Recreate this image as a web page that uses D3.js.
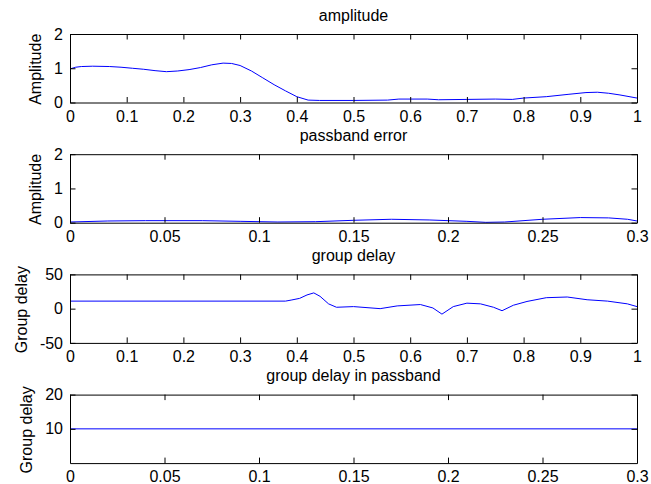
<!DOCTYPE html>
<html>
<head>
<meta charset="utf-8">
<script src="https://cdn.jsdelivr.net/npm/d3@7"></script>
<style>
    body { margin:0; background:#ffffff; }
    svg text { font-family: "Liberation Sans", Arial, sans-serif; }
</style>
</head>
<body>
<svg id="chart"></svg>
<script>
// amplitude over the whole band
var ampX = [0, 0.01, 0.02, 0.04, 0.07, 0.09, 0.11, 0.13, 0.15, 0.17, 0.19, 0.21, 0.23, 0.25, 0.27, 0.285,
            0.30, 0.32, 0.34, 0.36, 0.38, 0.40, 0.42, 0.44, 0.50, 0.56, 0.58, 0.63, 0.65, 0.70, 0.75, 0.78,
            0.80, 0.84, 0.88, 0.91, 0.93, 0.95, 0.97, 1.00]
var ampY = [0.98, 1.03, 1.05, 1.06, 1.05, 1.03, 1.00, 0.97, 0.93, 0.90, 0.92, 0.96, 1.02, 1.10, 1.15, 1.14,
            1.08, 0.92, 0.72, 0.52, 0.34, 0.17, 0.07, 0.06, 0.06, 0.07, 0.10, 0.10, 0.08, 0.09, 0.10, 0.09,
            0.13, 0.17, 0.24, 0.29, 0.30, 0.27, 0.22, 0.13]

// passband error
var errX = [0, 0.02, 0.04, 0.07, 0.09, 0.11, 0.13, 0.15, 0.17, 0.19, 0.21, 0.22, 0.23, 0.25, 0.27, 0.285, 0.295, 0.30]
var errY = [0.02, 0.05, 0.06, 0.06, 0.04, 0.02, 0.03, 0.07, 0.10, 0.08, 0.04, 0.01, 0.02, 0.10, 0.15, 0.14, 0.10, 0.05]

// group delay
var gdX = [0, 0.38, 0.39, 0.405, 0.418, 0.43, 0.441, 0.456, 0.47, 0.50, 0.547, 0.577, 0.618, 0.64, 0.656,
           0.676, 0.70, 0.724, 0.747, 0.762, 0.782, 0.806, 0.84, 0.877, 0.912, 0.948, 0.983, 1.0]
var gdY = [11, 11, 12.5, 15, 20, 23, 18, 7, 2, 3, 0, 4, 6, 1, -8,
           3, 8, 7, 2, -3, 5, 10.5, 16, 17, 13, 11, 7, 3]

// group delay in passband
var gdpX = [0, 0.3]
var gdpY = [10, 10]

var titles = ["amplitude", "passband error", "group delay", "group delay in passband"]
var yLabels = ["Amplitude", "Amplitude", "Group delay", "Group delay"]
var xDomains = [[0, 1], [0, 0.3], [0, 1], [0, 0.3]]
var yDomains = [[0, 2], [0, 2], [-50, 50], [0, 20]]
var xTicks = [[0, 0.1, 0.2, 0.3, 0.4, 0.5, 0.6, 0.7, 0.8, 0.9, 1],
              [0, 0.05, 0.1, 0.15, 0.2, 0.25, 0.3],
              [0, 0.1, 0.2, 0.3, 0.4, 0.5, 0.6, 0.7, 0.8, 0.9, 1],
              [0, 0.05, 0.1, 0.15, 0.2, 0.25, 0.3]]
var yTicks = [[0, 1, 2], [0, 1, 2], [-50, 0, 50], [10, 20]]

var mainCode = function(){
    var screen = {width:651, height:484}
    var plot = {left:70, width:567, top:34, step:120.2, height:68.5}
    var tickLen = 5.5

    var svg = d3.select("#chart")
        .attr("width", screen.width)
        .attr("height", screen.height)

    svg.append("rect").attr("width", screen.width).attr("height", screen.height).attr("fill", "#ffffff")

    var fmt = function(d){ return String(+d.toFixed(3)) }

    var series = [
        {x:ampX, y:ampY},
        {x:errX, y:errY},
        {x:gdX, y:gdY},
        {x:gdpX, y:gdpY}
    ]

    series.forEach(function(s, i){
        var top = plot.top + i*plot.step
        var g = svg.append("g")
            .attr("transform", "translate(" + plot.left + "," + top + ")")

        var xScale = d3.scaleLinear().domain(xDomains[i]).range([0, plot.width])
        var yScale = d3.scaleLinear().domain(yDomains[i]).range([plot.height, 0])

        // white axes box
        g.append("rect")
            .attr("width", plot.width).attr("height", plot.height)
            .attr("fill", "#ffffff")

        // data line
        var pts = s.x.map(function(v, k){ return [v, s.y[k]] })
        var line = d3.line()
            .x(function(d){ return xScale(d[0]) })
            .y(function(d){ return yScale(d[1]) })
        g.append("path")
            .datum(pts)
            .attr("d", line)
            .attr("fill", "none")
            .attr("stroke", "#0000ff")
            .attr("stroke-width", 1)

        // axes, ticks inward on all four sides
        var xb = g.append("g").attr("transform", "translate(0," + plot.height + ")")
            .call(d3.axisBottom(xScale).tickValues(xTicks[i]).tickFormat(fmt)
                .tickSizeInner(-tickLen).tickSizeOuter(0).tickPadding(8))
        var xt = g.append("g")
            .call(d3.axisTop(xScale).tickValues(xTicks[i]).tickFormat("")
                .tickSizeInner(-tickLen).tickSizeOuter(0))
        var yl = g.append("g")
            .call(d3.axisLeft(yScale).tickValues(yTicks[i]).tickFormat(fmt)
                .tickSizeInner(-tickLen).tickSizeOuter(0).tickPadding(7))
        var yr = g.append("g").attr("transform", "translate(" + plot.width + ",0)")
            .call(d3.axisRight(yScale).tickValues(yTicks[i]).tickFormat("")
                .tickSizeInner(-tickLen).tickSizeOuter(0))

        g.selectAll(".domain").attr("stroke", "#000000").attr("stroke-width", 1)
        g.selectAll(".tick line").attr("stroke", "#000000")
        g.selectAll(".tick text")
            .attr("font-size", 16)
            .attr("fill", "#000000")
            .attr("font-family", "Liberation Sans, Arial, sans-serif")

        // title
        g.append("text")
            .attr("x", plot.width/2)
            .attr("y", -13.5)
            .attr("text-anchor", "middle")
            .attr("font-size", 16)
            .attr("fill", "#000000")
            .text(titles[i])

        // y label sits left of the widest tick label
        var minX = 0
        yl.selectAll("text").each(function(){
            var b = this.getBBox()
            if (b.x < minX) minX = b.x
        })
        g.append("text")
            .attr("transform", "translate(" + (minX - 13) + "," + (plot.height/2 + 1) + ") rotate(-90)")
            .attr("text-anchor", "middle")
            .attr("font-size", 16)
            .attr("fill", "#000000")
            .text(yLabels[i])
    })
}

mainCode()
</script>
</body>
</html>
